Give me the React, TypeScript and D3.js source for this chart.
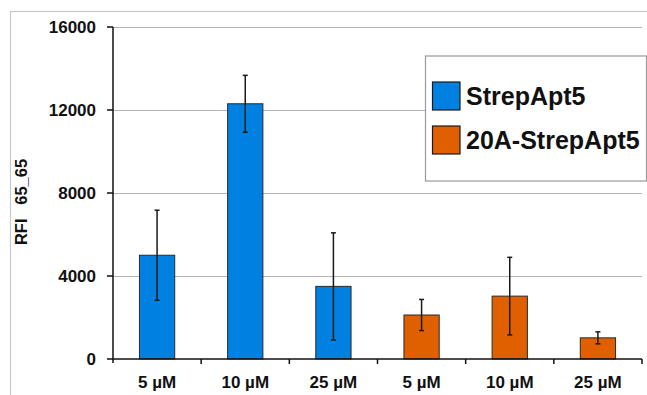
import React from "react";
import * as d3 from "d3";

const categories = ["5 µM", "10 µM", "25 µM", "5 µM", "10 µM", "25 µM"];
const seriesOf = ["StrepApt5", "StrepApt5", "StrepApt5", "20A-StrepApt5", "20A-StrepApt5", "20A-StrepApt5"];
const values = [5000, 12300, 3500, 2120, 3030, 1020];
const errors = [2170, 1370, 2580, 750, 1870, 290];
const yTicks = [0, 4000, 8000, 12000, 16000];
const legendNames = ["StrepApt5", "20A-StrepApt5"];
const colors: Record<string, string> = { "StrepApt5": "#0080E0", "20A-StrepApt5": "#E06000" };

const FONT = "'Liberation Sans', Arial, Helvetica, sans-serif";

export default function App() {
  const W = 647, H = 395;
  const left = 113, right = 642, top = 27, bottom = 359;
  const x = d3.scaleBand<number>().domain(categories.map((_, i) => i)).range([left, right]).padding(0);
  const y = d3.scaleLinear().domain([0, 16000]).range([bottom, top]);
  const bw = x.bandwidth();
  const barW = bw * 0.4;

  return (
    <svg width={W} height={H} style={{ position: "absolute", left: 0, top: 0, background: "#fff" }} fontFamily={FONT}>
      <rect x={0} y={0} width={W} height={H} fill="#fff" />
      <rect x={10.5} y={11.5} width={800} height={600} fill="none" stroke="#c8c8c8" strokeWidth={1.2} />
      {yTicks.filter(t => t > 0).map(t => (
        <line key={"g" + t} x1={left} x2={right} y1={Math.round(y(t)) + 0.5} y2={Math.round(y(t)) + 0.5} stroke="#b4b4b4" strokeWidth={1.2} />
      ))}
      {values.map((v, i) => {
        const cx = (x(i) as number) + bw / 2;
        return (
          <g key={"b" + i}>
            <rect x={cx - barW / 2} y={y(v)} width={barW} height={y(0) - y(v)} fill={colors[seriesOf[i]]} stroke="#2a2a2a" strokeWidth={1} />
          </g>
        );
      })}
      {values.map((v, i) => {
        const cx = (x(i) as number) + bw / 2;
        const hi = y(v + errors[i]);
        const lo = y(v - errors[i]);
        return (
          <g key={"e" + i} stroke="#1a1a1a" strokeWidth={1.5}>
            <line x1={cx} x2={cx} y1={hi} y2={lo} />
            <line x1={cx - 2.5} x2={cx + 2.5} y1={hi} y2={hi} />
            <line x1={cx - 2.5} x2={cx + 2.5} y1={lo} y2={lo} />
          </g>
        );
      })}
      {/* axes */}
      <line x1={left} x2={left} y1={top} y2={bottom + 4} stroke="#111" strokeWidth={1.5} />
      <line x1={left} x2={right} y1={bottom} y2={bottom} stroke="#111" strokeWidth={1.5} />
      {yTicks.map(t => (
        <g key={"yt" + t}>
          <line x1={left - 6} x2={left} y1={y(t)} y2={y(t)} stroke="#111" strokeWidth={1.5} />
          <text x={96} y={y(t) + 6} textAnchor="end" fontSize={17} fontWeight="bold" fill="#111">{t}</text>
        </g>
      ))}
      {categories.map((_, i) => (
        <line key={"xt" + i} x1={(x(i) as number) + bw} x2={(x(i) as number) + bw} y1={bottom} y2={bottom + 5} stroke="#111" strokeWidth={1.5} />
      ))}
      {categories.map((c, i) => (
        <text key={"xl" + i} x={(x(i) as number) + bw / 2} y={388} textAnchor="middle" fontSize={17} fontWeight="bold" fill="#111">{c}</text>
      ))}
      <text transform="translate(27,202) rotate(-90)" textAnchor="middle" fontSize={16.5} fontWeight="bold" fill="#111" style={{ whiteSpace: "pre" }}>{"RFI   65_65"}</text>
      {/* legend */}
      <rect x={425.5} y={56} width={221} height={125} fill="#fff" stroke="#9a9a9a" strokeWidth={1.2} />
      {legendNames.map((n, i) => (
        <g key={"l" + n}>
          <rect x={432.5} y={82 + i * 44} width={27.5} height={28} fill={colors[n]} stroke="#1a1a1a" strokeWidth={1.2} />
          <text x={466} y={104.5 + i * 44} fontSize={25} fontWeight="bold" fill="#111">{n}</text>
        </g>
      ))}
    </svg>
  );
}
